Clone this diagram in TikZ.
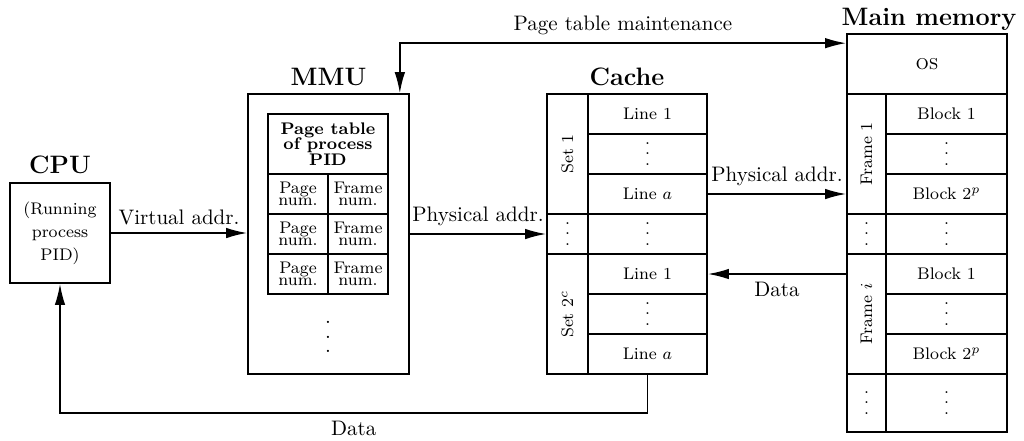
\documentclass[tikz,border=0pt]{standalone}
\usetikzlibrary{arrows.meta}
\newcommand\vdts[1]{$\vcenter{\baselineskip#1\lineskiplimit0pt\hbox{.}\hbox{.}\hbox{.}}$}
\begin{document}
\begin{tikzpicture}[x=0.476pt, y=-0.476pt,
  wh/.style 2 args={minimum width=#1*0.476pt, minimum height=#2*0.476pt},
  box/.style={draw, line width=0.8pt, inner sep=0pt, align=center},
  cell/.style={box, font=\footnotesize},
  title/.style={font=\large\bfseries, anchor=base},
  arr/.style={line width=0.8pt, -{Latex[length=10pt,width=5pt]}},
  arrtwo/.style={line width=0.8pt, {Latex[length=10pt,width=5pt]}-{Latex[length=10pt,width=5pt]}}]
\useasboundingbox (0,0) rectangle (1024,440);

% CPU
\node[box, wh={100}{100}, font=\footnotesize] (cpu) at (60,233) {(Running\\[1.5pt]process\\[1.5pt]PID)};
\node[title] (cpul) at (60,173) {CPU};

% MMU
\node[box, wh={161}{280}] (mmu) at (328.5,234) {};
\node[title] (mmul) at (328.5,85) {MMU};
\node[box, wh={120}{60}, font=\footnotesize\bfseries] (pth) at (328,144) {Page table\\[-2pt]of process\\[-2pt]PID};
\node[cell, wh={60}{40}] (pn1) at (298,194) {Page\\[-3.5pt]num.};
\node[cell, wh={60}{40}] (fn1) at (358,194) {Frame\\[-3.5pt]num.};
\node[cell, wh={60}{40}] (pn2) at (298,234) {Page\\[-3.5pt]num.};
\node[cell, wh={60}{40}] (fn2) at (358,234) {Frame\\[-3.5pt]num.};
\node[cell, wh={60}{40}] (pn3) at (298,274) {Page\\[-3.5pt]num.};
\node[cell, wh={60}{40}] (fn3) at (358,274) {Frame\\[-3.5pt]num.};
\node (mmudots) at (328,337) {\vdts{7pt}};

% Cache
\node[title] (cachel) at (627,85) {Cache};
\node[cell, wh={119}{40}] (c1) at (647.5,114) {Line 1};
\node[cell, wh={119}{40}] (c2) at (647.5,154) {\vdts{5pt}};
\node[cell, wh={119}{40}] (c3) at (647.5,194) {Line $a$};
\node[cell, wh={119}{40}] (c4) at (647.5,234) {\vdts{5pt}};
\node[cell, wh={119}{40}] (c5) at (647.5,274) {Line 1};
\node[cell, wh={119}{40}] (c6) at (647.5,314) {\vdts{5pt}};
\node[cell, wh={119}{40}] (c7) at (647.5,354) {Line $a$};
\node[cell, wh={120}{41}, rotate=90] (set1) at (567.5,154) {Set 1};
\node[cell, wh={41}{40}] (sdots) at (567.5,234) {\vdts{5pt}};
\node[cell, wh={120}{41}, rotate=90] (set2) at (567.5,314) {Set $2^c$};

% Main memory
\node[title] (meml) at (929,25) {Main memory};
\node[box, wh={160}{60}] (os) at (927,64) {\textsc{os}};
\node[cell, wh={121}{40}] (b11) at (946.5,114) {Block 1};
\node[cell, wh={121}{40}] (b12) at (946.5,154) {\vdts{5pt}};
\node[cell, wh={121}{40}] (b13) at (946.5,194) {Block $2^p$};
\node[cell, wh={121}{40}] (b2) at (946.5,234) {\vdts{5pt}};
\node[cell, wh={121}{40}] (b31) at (946.5,274) {Block 1};
\node[cell, wh={121}{40}] (b32) at (946.5,314) {\vdts{5pt}};
\node[cell, wh={121}{40}] (b33) at (946.5,354) {Block $2^p$};
\node[cell, wh={121}{58}] (b4) at (946.5,403) {\vdts{5pt}};
\node[cell, wh={120}{39}, rotate=90] (f1) at (866.5,154) {Frame 1};
\node[cell, wh={39}{40}] (fd) at (866.5,234) {\vdts{5pt}};
\node[cell, wh={120}{39}, rotate=90] (fi) at (866.5,314) {Frame $i$};
\node[cell, wh={39}{58}] (fd2) at (866.5,403) {\vdts{5pt}};

% Connectors
\draw[arr] (cpu.east) -- node[above]{Virtual addr.} (cpu.east -| mmu.west);
\draw[arr] (mmu.east) -- node[above]{Physical addr.} (sdots.west);
\draw[arr] (c3.east) -- node[above]{Physical addr.} (c3.east -| os.west);
\draw[arr] (c5.east -| os.west) -- node[below]{Data} (c5.east);
\draw[arrtwo] ([xshift=-10*0.476pt]mmu.north east) |- node[pos=0.75, above]{Page table maintenance} ([yshift=-10*0.476pt]os.north west);
\draw[arr] (c7.south) -- ++(0,38) -| node[pos=0.25, below]{Data} (cpu.south);
\end{tikzpicture}
\end{document}
